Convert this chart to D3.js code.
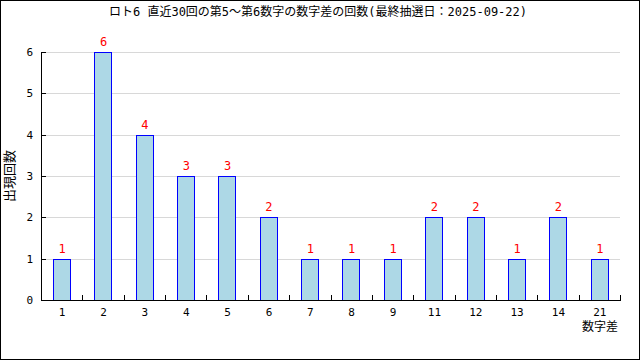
<!DOCTYPE html>
<html lang="ja">
<head>
<meta charset="utf-8">
<script src="https://d3js.org/d3.v7.min.js"></script>
<style>
  body { margin: 0; background: #fff; }
  svg text { font-family: "DejaVu Sans Mono", "Noto Sans CJK JP", monospace; font-size: 11px; }
</style>
</head>
<body>
<div id="chart"></div>
<script>
// data
var categories = ["1", "2", "3", "4", "5", "6", "7", "8", "9", "11", "12", "13", "14", "21"];
var counts = [1, 6, 4, 3, 3, 2, 1, 1, 1, 2, 2, 1, 2, 1];
var yTicks = [0, 1, 2, 3, 4, 5, 6];
var title = "ロト6 直近30回の第5～第6数字の数字差の回数(最終抽選日：2025-09-22)";

var width = 640, height = 360;
var plotLeft = 41, plotRight = 620, plotTop = 52, plotBottom = 300;

var svg = d3.select("#chart").append("svg")
  .attr("width", width)
  .attr("height", height);

// outer frame
svg.append("rect")
  .attr("x", 0.5).attr("y", 0.5)
  .attr("width", width - 1).attr("height", height - 1)
  .attr("fill", "#fff").attr("stroke", "#000");

var x = d3.scaleBand().domain(categories).range([plotLeft, plotRight]);
var y = d3.scaleLinear().domain([0, 6]).range([plotBottom, plotTop]);

// grid lines
svg.selectAll(".grid").data(yTicks.slice(1)).enter().append("line")
  .attr("x1", plotLeft).attr("x2", plotRight)
  .attr("y1", function(d) { return Math.round(y(d)) + 0.5; })
  .attr("y2", function(d) { return Math.round(y(d)) + 0.5; })
  .attr("stroke", "#d8d8d8");

// bars
var bw = x.bandwidth() * 0.42;
svg.selectAll(".bar").data(counts).enter().append("rect")
  .attr("x", function(d, i) { return Math.round(x(categories[i]) + x.bandwidth() / 2 - bw / 2) + 0.5; })
  .attr("y", function(d) { return Math.round(y(d)) + 0.5; })
  .attr("width", Math.round(bw))
  .attr("height", function(d) { return Math.round(y(0)) - Math.round(y(d)); })
  .attr("fill", "#add8e6")
  .attr("stroke", "#0000ff");

// value labels
svg.selectAll(".val").data(counts).enter().append("text")
  .attr("x", function(d, i) { return x(categories[i]) + x.bandwidth() / 2 + 0.5; })
  .attr("y", function(d) { return y(d) - 6; })
  .attr("text-anchor", "middle")
  .attr("fill", "#ff0000")
  .style("font-size", "12px")
  .text(function(d) { return d; });

// y axis
svg.append("line")
  .attr("x1", plotLeft + 0.5).attr("x2", plotLeft + 0.5)
  .attr("y1", plotTop).attr("y2", plotBottom + 0.5)
  .attr("stroke", "#000");
svg.selectAll(".ytick").data(yTicks).enter().append("line")
  .attr("x1", plotLeft).attr("x2", plotLeft + 5)
  .attr("y1", function(d) { return Math.round(y(d)) + 0.5; })
  .attr("y2", function(d) { return Math.round(y(d)) + 0.5; })
  .attr("stroke", "#000");
svg.selectAll(".ylab").data(yTicks).enter().append("text")
  .attr("x", 33)
  .attr("y", function(d) { return y(d) + 4; })
  .attr("text-anchor", "end")
  .text(function(d) { return d; });

// x axis
svg.append("line")
  .attr("x1", plotLeft).attr("x2", plotRight + 1)
  .attr("y1", plotBottom + 0.5).attr("y2", plotBottom + 0.5)
  .attr("stroke", "#000");
var bounds = categories.slice(1).map(function(c) { return x(c); }).concat([plotRight]);
svg.selectAll(".xtick").data(bounds).enter().append("line")
  .attr("x1", function(d) { return Math.round(d) + 0.5; })
  .attr("x2", function(d) { return Math.round(d) + 0.5; })
  .attr("y1", plotBottom - 5).attr("y2", plotBottom)
  .attr("stroke", "#000");
svg.selectAll(".xlab").data(categories).enter().append("text")
  .attr("x", function(d) { return x(d) + x.bandwidth() / 2 + 0.5; })
  .attr("y", 316)
  .attr("text-anchor", "middle")
  .text(function(d) { return d; });

// axis titles
svg.append("text")
  .attr("x", 618).attr("y", 331)
  .attr("text-anchor", "end")
  .style("font-size", "12px")
  .text("数字差");
svg.append("text")
  .attr("transform", "translate(14,176) rotate(-90)")
  .attr("text-anchor", "middle")
  .style("font-size", "13px")
  .text("出現回数");

// title
svg.append("text")
  .attr("x", 318).attr("y", 16)
  .attr("text-anchor", "middle")
  .style("font-size", "12px")
  .text(title);
</script>
</body>
</html>
